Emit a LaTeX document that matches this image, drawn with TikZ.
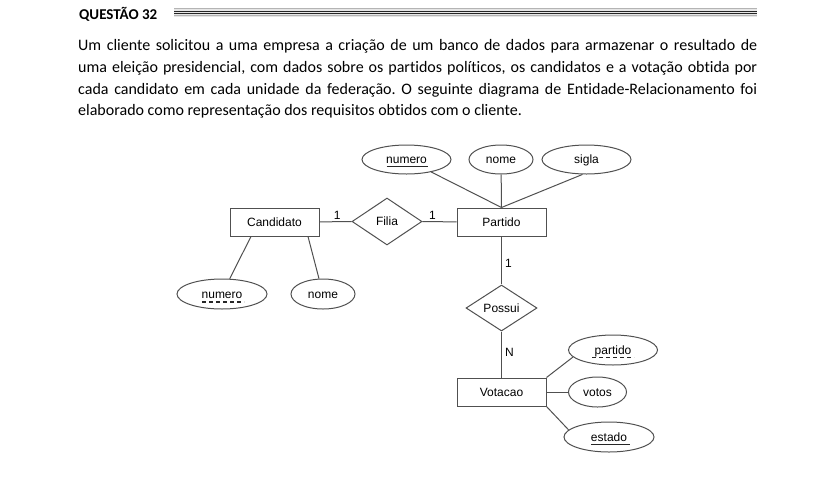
\documentclass[tikz,border=0pt]{standalone}
\usepackage{fontspec}
\setmainfont{Carlito}[Ligatures=NoCommon]
\newfontfamily\arialf{Liberation Sans}
\usetikzlibrary{shapes.geometric,calc}
\definecolor{ln}{HTML}{505050}
\definecolor{rulegray}{HTML}{B4B4B4}
\definecolor{rulebg}{HTML}{E6E6E6}
\frenchspacing
\begin{document}
\begin{tikzpicture}[x=1pt,y=-1pt,
 er/.style={draw=ln, line width=1pt, font=\arialf\fontsize{12}{14}\selectfont, inner sep=0pt, text height=9pt, text depth=1pt},
 ent/.style={er, rectangle, minimum width=89, minimum height=28},
 rel/.style={er, diamond, minimum width=70, minimum height=47},
 attr/.style={er, ellipse, minimum height=29},
 conn/.style={draw=ln, line width=1pt},
 card/.style={font=\arialf\fontsize{12}{14}\selectfont, inner sep=0pt},
 keyul/.style={line width=1.8pt, draw=black!85},
 partul/.style={keyul, dash pattern=on 4pt off 3pt},
 para/.style={anchor=base west, inner sep=0pt, font=\fontsize{16}{18}\selectfont\frenchspacing}
]
\useasboundingbox (0,0) rectangle (835,480);

% header
\node[anchor=base west, inner sep=0pt, font=\bfseries\fontsize{15}{18}\selectfont] (title) at (79,19.5) {QUESTÃO 32};
\fill[rulebg] (174,7.5) rectangle (757,17);
\draw[rulegray, line width=1.5pt] (174,8.7) -- (757,8.7);
\draw[black!85, line width=1pt] (174,11.4) -- (757,11.4);
\draw[black!85, line width=1pt] (174,13.4) -- (757,13.4);
\draw[rulegray, line width=1.5pt] (174,15.7) -- (757,15.7);

% paragraph
\node[para] (p1) at (78,50.5) {\makebox[679pt][s]{Um cliente solicitou a uma empresa a criação de um banco de dados para armazenar o resultado de}};
\node[para] (p2) at (78,72.3) {\makebox[679pt][s]{uma eleição presidencial, com dados sobre os partidos políticos, os candidatos e a votação obtida por}};
\node[para] (p3) at (78,94.1) {\makebox[679pt][s]{cada candidato em cada unidade da federação. O seguinte diagrama de Entidade-Relacionamento foi}};
\node[para] (p4) at (78,115.9) {elaborado como representação dos requisitos obtidos com o cliente.};

% entities
\node[ent] (cand) at (274.5,222) {Candidato};
\node[ent] (part) at (501.5,222) {Partido};
\node[ent] (vot) at (501.5,392) {Votacao};

% relationships
\node[rel] (filia) at (387,221.5) {Filia};
\node[rel, minimum width=71, minimum height=46] (poss) at (501.5,308) {Possui};

% attributes
\node[attr, minimum width=89] (pnum) at (406.5,159.5) {numero};
\node[attr, minimum width=64] (pnome) at (501,159.5) {nome};
\node[attr, minimum width=89] (psig) at (586.5,159.5) {sigla};
\node[attr, minimum width=90, minimum height=30] (cnum) at (222,294) {numero};
\node[attr, minimum width=64, minimum height=30] (cnome) at (323,294) {nome};
\node[attr, minimum width=89, minimum height=30] (vpart) at (613,350) {partido};
\node[attr, minimum width=58, minimum height=30] (vvotos) at (597.5,392) {votos};
\node[attr, minimum width=90, minimum height=30] (vest) at (609,437) {estado};

% key underlines
\draw[keyul] ($(pnum.center)+(-20,7)$) -- ($(pnum.center)+(21,7)$);
\draw[keyul] ($(vest.center)+(-18,7.5)$) -- ($(vest.center)+(21,7.5)$);
\draw[partul] ($(cnum.center)+(-20,8)$) -- ($(cnum.center)+(22,8)$);
\draw[partul] ($(vpart.center)+(-21,7.5)$) -- ($(vpart.center)+(21,7.5)$);

% connectors
\draw[conn] (cand) -- (filia) node[card, pos=0.55, above=2pt] {1};
\draw[conn] (filia) -- (part) node[card, pos=0.3, above=2pt] {1};
\draw[conn] (part) -- (poss) node[card, pos=0.55, right=3pt] {1};
\draw[conn] (poss) -- (vot) node[card, pos=0.45, right=3pt] {N};

\draw[conn] (pnum) -- (part.north);
\draw[conn] (pnome) -- (part.north);
\draw[conn] (psig.255) -- (part.north);

\draw[conn] ($(cand.south)+(-23.5,0)$) -- (cnum);
\draw[conn] ($(cand.south)+(33.5,0)$) -- (cnome);

\draw[conn] (vot.north east) -- (vpart.190);
\draw[conn] (vot) -- (vvotos);
\draw[conn] (vot.south east) -- (vest.170);
\end{tikzpicture}
\end{document}
